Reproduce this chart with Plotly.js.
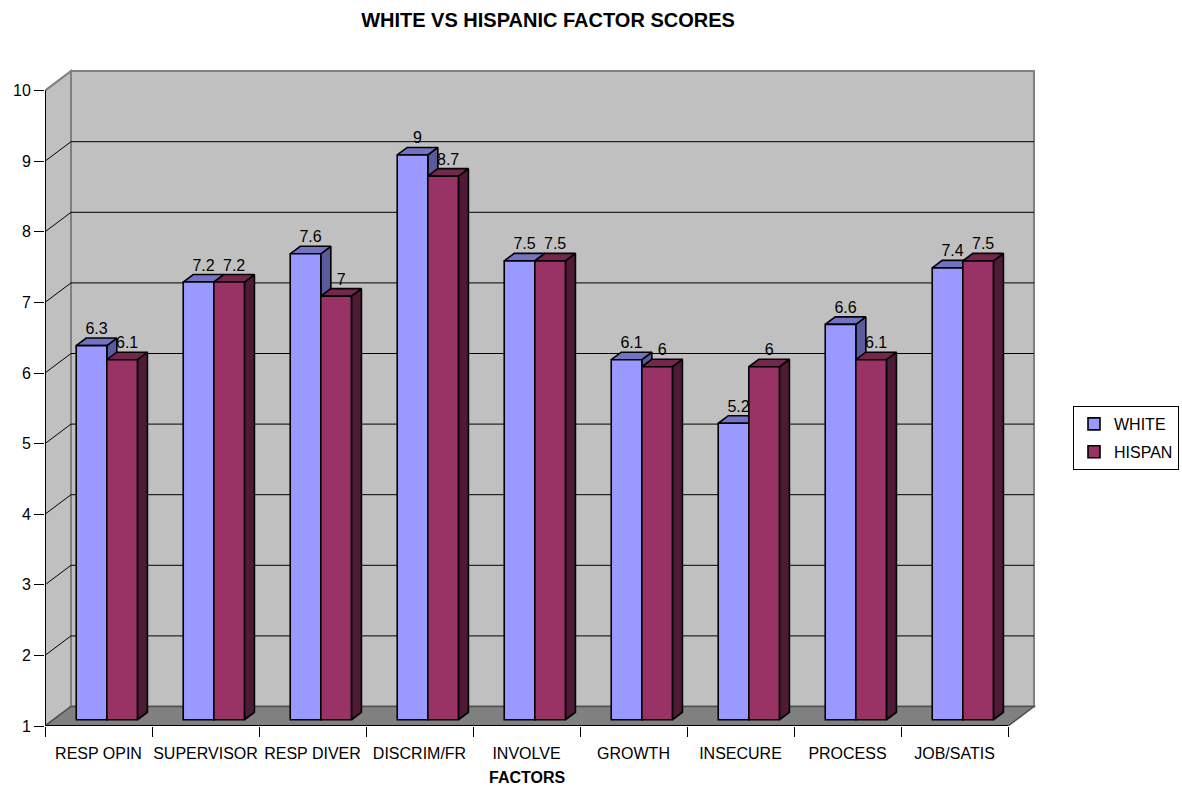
<!DOCTYPE html>
<html><head><meta charset="utf-8">
<script src="https://cdn.plot.ly/plotly-3.0.1.min.js"></script>
<style>html,body{margin:0;padding:0;background:#fff}</style>
</head><body><div id="chart" style="width:1182px;height:786px"></div>
<script>
// ---- data ----
const categories = ['RESP OPIN','SUPERVISOR','RESP DIVER','DISCRIM/FR','INVOLVE','GROWTH','INSECURE','PROCESS','JOB/SATIS'];
const whiteScores = [6.3, 7.2, 7.6, 9, 7.5, 6.1, 5.2, 6.6, 7.4];
const hispanScores = [6.1, 7.2, 7, 8.7, 7.5, 6, 6, 6.1, 7.5];
const seriesNames = ['WHITE', 'HISPAN'];
const yTickVals = [1, 2, 3, 4, 5, 6, 7, 8, 9, 10];

// ---- geometry / style ----
const PX_CAT = 107, PX_UNIT = 70.6;
const DX = 26 / PX_CAT, DY = 19.5 / PX_UNIT;      // depth of the 3D box in data units
const F0 = 0.32, F1 = 0.705;                      // bar front/back depth fractions
const BAR_W = 30.6 / PX_CAT;
const X_MIN = -0.5, X_MAX = categories.length - 0.5;
const Y_MIN = yTickVals[0], Y_MAX = yTickVals[yTickVals.length - 1];
const PL = 45, PT = 69, PR = 1037, PB = 726;
const xRange = [X_MIN, X_MIN + (PR - PL) / PX_CAT];
const yRange = [Y_MIN, Y_MIN + (PB - PT) / PX_UNIT];
const colors = {
  front: ['#9999FF', '#993366'],
  top: ['#7373C4', '#75264E'],
  side: ['#5A5A9C', '#4E1A35']
};
const FONT = '"Liberation Sans", Arial, sans-serif';
const EDGE = 1.6;

const seriesData = [whiteScores, hispanScores];
const ddx = (F1 - F0) * DX, ddy = (F1 - F0) * DY;
const base = Y_MIN + F0 * DY;

const polyTraces = [];
const frontTraces = [];
const labelTraces = [];
seriesData.forEach((vals, s) => {
  const sx = [], sy = [], tx = [], ty = [];
  const lx = [], ly = [], lt = [];
  vals.forEach((v, i) => {
    const xl = i + F0 * DX - BAR_W + s * BAR_W;
    const xr = xl + BAR_W;
    const top = v + F0 * DY;
    // side face
    sx.push(xr, xr, xr + ddx, xr + ddx, xr, null);
    sy.push(base, top, top + ddy, base + ddy, base, null);
    // top face
    tx.push(xl, xr, xr + ddx, xl + ddx, xl, null);
    ty.push(top, top, top + ddy, top + ddy, top, null);
    // label
    lx.push((xl + xr) / 2 + ddx / 2);
    ly.push(top + ddy);
    lt.push(String(v));
  });
  polyTraces.push({
    type: 'scatter', mode: 'lines', x: sx, y: sy, fill: 'toself', fillcolor: colors.side[s],
    line: {color: '#000', width: EDGE}, showlegend: false, hoverinfo: 'skip', xaxis: 'x', yaxis: 'y'
  });
  polyTraces.push({
    type: 'scatter', mode: 'lines', x: tx, y: ty, fill: 'toself', fillcolor: colors.top[s],
    line: {color: '#000', width: EDGE}, showlegend: false, hoverinfo: 'skip', xaxis: 'x', yaxis: 'y'
  });
  frontTraces.push({
    type: 'bar', name: seriesNames[s], legendgroup: seriesNames[s],
    x: vals.map((v, i) => i + F0 * DX), y: vals.map(v => v - Y_MIN), base: base,
    width: BAR_W, offset: s === 0 ? -BAR_W : 0,
    marker: {color: colors.front[s], line: {color: '#000', width: EDGE}},
    xaxis: 'x2', yaxis: 'y2', hoverinfo: 'skip'
  });
  labelTraces.push({
    type: 'scatter', mode: 'text', x: lx, y: ly, text: lt, textposition: 'top center',
    textfont: {family: FONT, size: 16, color: '#000'}, showlegend: false, hoverinfo: 'skip',
    xaxis: 'x2', yaxis: 'y2', cliponaxis: false
  });
});

// ---- 3D box scaffold (shapes) ----
const shapes = [];
const W = {xref: 'x', yref: 'y', layer: 'below'};
shapes.push(Object.assign({type: 'rect', x0: X_MIN + DX, x1: X_MAX + DX, y0: Y_MIN + DY, y1: Y_MAX + DY,
  fillcolor: '#C0C0C0', line: {color: '#808080', width: 2}}, W));
shapes.push(Object.assign({type: 'path',
  path: `M${X_MIN},${Y_MIN} L${X_MIN},${Y_MAX} L${X_MIN + DX},${Y_MAX + DY} L${X_MIN + DX},${Y_MIN + DY} Z`,
  fillcolor: '#C0C0C0', line: {color: '#808080', width: 2}}, W));
shapes.push(Object.assign({type: 'path',
  path: `M${X_MIN},${Y_MIN} L${X_MAX},${Y_MIN} L${X_MAX + DX},${Y_MIN + DY} L${X_MIN + DX},${Y_MIN + DY} Z`,
  fillcolor: '#808080', line: {color: '#505050', width: 1.5}}, W));
yTickVals.slice(1, -1).forEach(v => {
  shapes.push(Object.assign({type: 'line', x0: X_MIN + DX, x1: X_MAX + DX, y0: v + DY, y1: v + DY,
    line: {color: '#000', width: 1}}, W));
  shapes.push(Object.assign({type: 'line', x0: X_MIN, x1: X_MIN + DX, y0: v, y1: v + DY,
    line: {color: '#000', width: 1}}, W));
});
shapes.push(Object.assign({type: 'line', x0: X_MIN, x1: X_MIN, y0: Y_MIN, y1: Y_MAX, line: {color: '#000', width: 2}}, W));
shapes.push(Object.assign({type: 'line', x0: X_MIN, x1: X_MAX, y0: Y_MIN, y1: Y_MIN, line: {color: '#000', width: 2}}, W));

const boundaries = categories.map((c, i) => i - 0.5).concat([categories.length - 0.5]);
const centers = categories.map((c, i) => i);

const layout = {
  width: 1182, height: 786,
  margin: {l: PL, r: 1182 - PR, t: PT, b: 786 - PB, pad: 0, autoexpand: false},
  paper_bgcolor: '#fff', plot_bgcolor: 'rgba(0,0,0,0)',
  font: {family: FONT, size: 16, color: '#000'},
  title: {text: 'WHITE VS HISPANIC FACTOR SCORES', font: {family: FONT, size: 20, weight: 'bold', color: '#000'},
    xref: 'container', x: 548 / 1182, xanchor: 'center', yref: 'container', y: 1 - 20 / 786, yanchor: 'middle'},
  barmode: 'overlay',
  showlegend: true,
  legend: {x: (1073 - PL) / (PR - PL), xanchor: 'left', y: (PB - 406) / (PB - PT), yanchor: 'top',
    bordercolor: '#000', borderwidth: 1, bgcolor: '#fff', font: {family: FONT, size: 16, color: '#000'},
    traceorder: 'grouped', tracegroupgap: 4},
  xaxis: {range: xRange, tickmode: 'array', tickvals: boundaries, ticks: 'outside', ticklen: 10, tickwidth: 1,
    tickcolor: '#000', showticklabels: false, showgrid: false, zeroline: false, showline: false, fixedrange: true},
  xaxis2: {overlaying: 'x', range: xRange, tickmode: 'array', tickvals: centers, ticktext: categories,
    ticks: 'outside', ticklen: 13, tickcolor: 'rgba(0,0,0,0)', showgrid: false, zeroline: false, showline: false,
    tickfont: {family: FONT, size: 16, color: '#000'}, fixedrange: true},
  yaxis: {range: yRange, tickmode: 'array', tickvals: yTickVals, ticks: 'outside', ticklen: 10, tickwidth: 1,
    tickcolor: '#000', showgrid: false, zeroline: false, showline: false,
    tickfont: {family: FONT, size: 16, color: '#000'}, fixedrange: true},
  yaxis2: {overlaying: 'y', range: yRange, showticklabels: false, ticks: '', showgrid: false, zeroline: false,
    showline: false, fixedrange: true},
  shapes: shapes,
  annotations: [{text: '<b>FACTORS</b>', xref: 'paper', yref: 'paper', x: (527 - PL) / (PR - PL),
    y: (PB - 777.5) / (PB - PT), xanchor: 'center', yanchor: 'middle', showarrow: false,
    font: {family: FONT, size: 16, color: '#000'}}]
};

Plotly.newPlot('chart', polyTraces.concat(frontTraces, labelTraces), layout, {staticPlot: true, displayModeBar: false});
</script></body></html>
